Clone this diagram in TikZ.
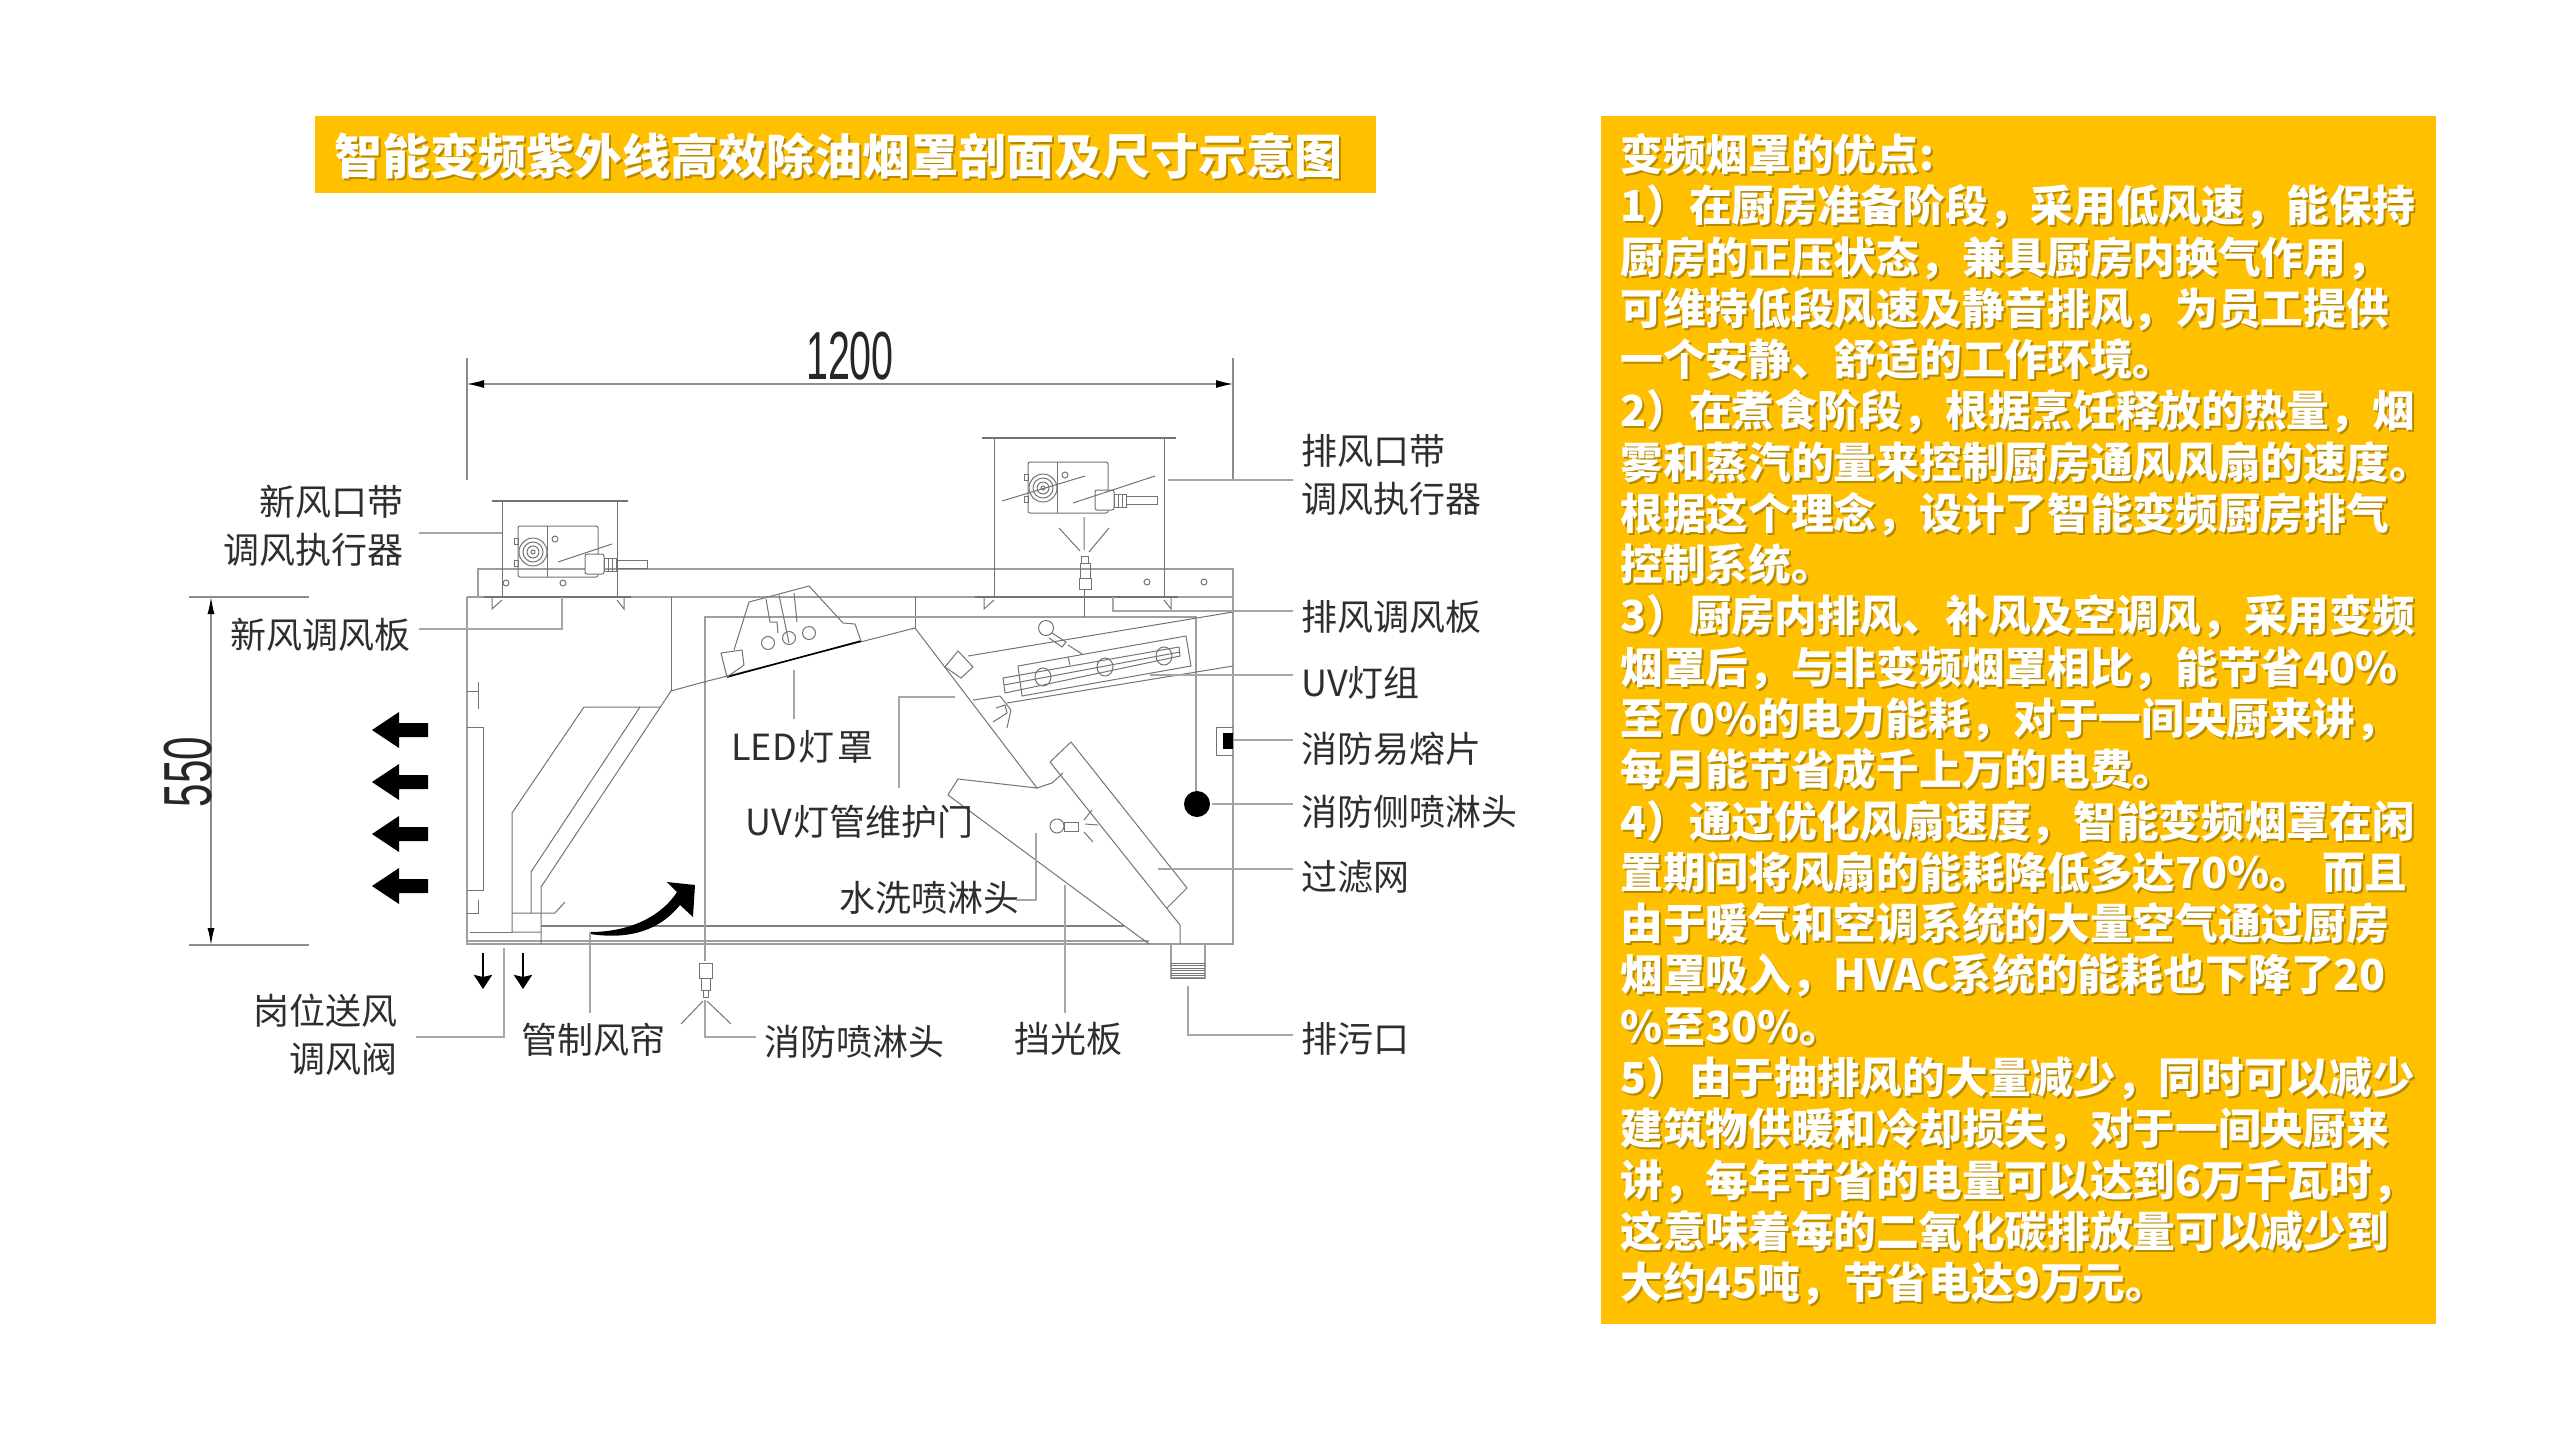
\documentclass[tikz,border=0pt]{standalone}
\usepackage{fontspec}
\setmainfont{Liberation Sans}
\newfontfamily\cjk{Noto Sans CJK SC}
\usetikzlibrary{arrows.meta}

\definecolor{panelgold}{HTML}{FFC000}
\definecolor{shadowgold}{HTML}{B88A00}

\tikzset{
    part/.style={draw=black!55, line width=0.5pt},
    wall/.style={draw=black!38, line width=0.7pt},
    leader/.style={draw=black!35, line width=0.6pt},
    dimline/.style={draw=black!45, line width=0.6pt},
    lbl/.style={font=\cjk\fontsize{18}{24}\selectfont, text=black!82, inner sep=4pt},
    dimtxt/.style={font=\fontsize{34}{34}\selectfont, text=black!85, inner sep=0pt},
    paneltxt/.style={font=\cjk\bfseries\fontsize{21.35}{25.64}\selectfont, align=left, inner sep=0pt, anchor=north west},
    titletxt/.style={font=\cjk\bfseries\fontsize{24}{28}\selectfont, inner sep=0pt, anchor=west}
}

\newcommand{\paneltext}{变频烟罩的优点:\\
1）在厨房准备阶段，采用低风速，能保持\\
厨房的正压状态，兼具厨房内换气作用，\\
可维持低段风速及静音排风，为员工提供\\
一个安静、舒适的工作环境。\\
2）在煮食阶段，根据烹饪释放的热量，烟\\
雾和蒸汽的量来控制厨房通风风扇的速度。\\
根据这个理念，设计了智能变频厨房排气\\
控制系统。\\
3）厨房内排风、补风及空调风，采用变频\\
烟罩后，与非变频烟罩相比，能节省40\%\\
至70\%的电力能耗，对于一间央厨来讲，\\
每月能节省成千上万的电费。\\
4）通过优化风扇速度，智能变频烟罩在闲\\
置期间将风扇的能耗降低多达70\%。 而且\\
由于暖气和空调系统的大量空气通过厨房\\
烟罩吸入，HVAC系统的能耗也下降了20\\
\%至30\%。\\
5）由于抽排风的大量减少，同时可以减少\\
建筑物供暖和冷却损失，对于一间央厨来\\
讲，每年节省的电量可以达到6万千瓦时，\\
这意味着每的二氧化碳排放量可以减少到\\
大约45吨，节省电达9万元。}

\begin{document}
\begin{tikzpicture}[x=0.5pt, y=-0.5pt]
    \useasboundingbox (0,0) rectangle (2560,1440);

    % Titel
    \fill[panelgold] (315,116) rectangle (1376,193);
    \node[titletxt, text=shadowgold] (titleShadow) at (336,158) {智能变频紫外线高效除油烟罩剖面及尺寸示意图};
    \node[titletxt, text=white] (titleText) at (334,156) {智能变频紫外线高效除油烟罩剖面及尺寸示意图};

    % Textfeld
    \fill[panelgold] (1601,116) rectangle (2436,1324);
    \node[paneltxt, text=shadowgold] (panelShadow) at (1622,135) {\paneltext};
    \node[paneltxt, text=white] (panelText) at (1620,133) {\paneltext};

    % Gehaeuse
    \draw[wall] (467,597) -- (467,944) -- (1233,944) -- (1233,569) -- (478,569) -- (478,597);
    \draw[wall] (467,597) -- (1233,597);
    \draw[wall] (467,941) -- (1149,941);
    \draw[part, black!50, line width=1.1pt] (541,926) -- (1124,926);
    \draw[part] (671,597) -- (671,691);
    \draw[part] (915,597) -- (915,628);
    \draw[wall, line width=0.6pt] (705,961) -- (705,617) -- (1196,617) -- (1196,804);
    \draw[part] (1084,589) -- (1084,617);

    % Haube links
    \draw[part] (700,683) -- (915,628) -- (1037,788) -- (958,779) -- (948,795) -- (1149,944);
    \draw[part] (700,683) -- (671,691) -- (541,887) -- (541,944);
    \draw[part] (660,707) -- (584,707) -- (512,813) -- (512,913) -- (512,932) -- (541,932);
    \draw[part] (640,707) -- (531,872) -- (531,913);
    \draw[part] (512,913) -- (555,913) -- (565,902);
    \draw[part] (467,727) -- (483,727) -- (483,890) -- (467,890);
    \draw[part] (467,691) -- (478,691);
    \draw[part] (478,682) -- (478,709);
    \draw[part] (467,913) -- (478,913) -- (478,900);
    \draw[part] (470,932) -- (512,932);

    % Filter
    \draw[part] (1037,788) -- (1052,783) -- (1063,773);
    \draw[part] (1050,762) -- (1071,742) -- (1187,888) -- (1167,908);
    \draw[part] (1050,762) -- (1180,925) -- (1180,944);
    \draw[wall] (1171,944) -- (1171,978) -- (1205,978) -- (1205,944);
    \foreach \sy in {963,965.5,...,978} {
        \draw[part, line width=0.5pt] (1171,\sy) -- (1205,\sy);
    }

    % Stutzen oben
    \draw[part, line width=0.7pt] (492,501) -- (628,501);
    \draw[part] (502,501) -- (502,597) (617,501) -- (617,597);
    \draw[part, line width=0.7pt] (484,597) -- (631,597);
    \draw[part] (492,597) -- (492,609) -- (502,600) (617,600) -- (624,609) -- (624,597);
    \draw[part, line width=0.7pt] (982,438) -- (1176,438);
    \draw[part] (994,438) -- (994,597) (1164,438) -- (1164,597);
    \draw[part, line width=0.7pt] (975,597) -- (1178,597);
    \draw[part] (984,597) -- (984,609) -- (994,600) (1164,600) -- (1171,609) -- (1171,597);
    \foreach \hx/\hy in {506/583,563/583,1147/582,1204/582} {
        \draw[part] (\hx,\hy) circle (3);
    }

    % Stellantriebe
    \foreach \ax/\ay in {518/526,1028/462} {
        \begin{scope}[shift={(\ax,\ay)}]
            \draw[part, rounded corners=1pt] (0,0) rectangle (80,51);
            \draw[part] (29,0) -- (29,51);
            \foreach \gr in {14,10,6,2} {
                \draw[part] (15,26) circle (\gr);
            }
            \draw[part] (-4,12) rectangle (0,18) (-4,34) rectangle (0,40);
            \draw[part] (37,13) circle (3);
            \draw[part, fill=white, rounded corners=1pt] (67,28) rectangle (86,48);
            \draw[part] (86,32) rectangle (98,45);
            \draw[part] (90,32) -- (90,45) (94,32) -- (94,45);
            \draw[part] (98,34) rectangle (129,42);
        \end{scope}
    }
    \draw[part] (558,562) -- (612,544);
    \draw[part] (1002,501) -- (1085,476) (1073,503) -- (1155,476);

    % Duese oben
    \draw[part] (1084,517) -- (1084,550) (1059,528) -- (1080,551) (1109,528) -- (1089,552);
    \draw[part] (1081,556) rectangle (1088,563);
    \draw[part] (1080,563) rectangle (1090,578);
    \draw[part] (1079,578) rectangle (1091,589);

    % LED Haube
    \draw[part, black, line width=0.8pt] (727,677) -- (861,641);
    \draw[part] (734,650) -- (749,602) -- (809,586) -- (843,623) -- (855,624) -- (861,641);
    \draw[part] (721,653) -- (742,650) -- (744,665) -- (727,677) -- cycle;
    \draw[part] (766,599) -- (770,622) -- (777,622) -- (778,633);
    \draw[part] (779,595) -- (789,643);
    \draw[part] (794,593) -- (797,622);
    \foreach \cx/\cy in {768/643,789/638,809/633} {
        \draw[part] (\cx,\cy) circle (6.5);
    }

    % UV Lampen
    \draw[part] (968,656) -- (1233,612);
    \draw[part] (1007,703) -- (1233,666);
    \draw[part] (1018,666) -- (1186,636) -- (1191,666) -- (1022,696) -- cycle;
    \draw[part] (1003,678) -- (1179,647) -- (1180,656) -- (1005,693) -- cycle;
    \draw[part] (1004,685) -- (1180,652);
    \foreach \cx/\cy in {1043/677,1105/667,1164/656} {
        \draw[part] (\cx,\cy) ellipse (8 and 9);
    }
    \draw[part] (945,667) -- (958,651) -- (973,667) -- (961,678) -- cycle;
    \draw[part] (1046,628) circle (7.5);
    \draw[part] (1052,633) -- (1066,642) -- (1062,647) -- (1049,638);
    \draw[part] (1068,645) -- (1082,654) (1068,657) -- (1070,665);
    \draw[part] (973,700) -- (1000,696) -- (1011,710) -- (1007,728);
    \draw[part] (996,708) -- (1005,705) -- (1007,713) -- (993,722);

    % Duese Mitte
    \draw[part] (1057,826) circle (7);
    \draw[part] (1064,822) rectangle (1078,831);
    \draw[part] (1085,824) -- (1098,825) (1084,820) -- (1092,810) (1084,832) -- (1093,842);

    % Duese unten
    \draw[part] (699,963) rectangle (712,978);
    \draw[part] (701,978) rectangle (710,990);
    \draw[part] (703,990) rectangle (708,997);
    \draw[part] (703,1001) -- (681,1024) (707,1001) -- (731,1024);

    % Schmelzlot und Seitenduese
    \draw[part] (1233,727) -- (1216,727) -- (1216,755) -- (1233,755);
    \fill[black] (1223,733) rectangle (1233,749);
    \fill[black] (1197,804) ellipse (13 and 13);

    % Pfeile
    \foreach \ay in {730,782,834,886} {
        \fill[black] (372,\ay) -- (399,\ay-18) -- (399,\ay-7) -- (428,\ay-7) -- (428,\ay+7) -- (399,\ay+7) -- (399,\ay+18) -- cycle;
    }
    \draw[-{Stealth[length=7pt, width=9pt, inset=1pt]}, line width=1.4pt] (483,953) -- (483,989);
    \draw[-{Stealth[length=7pt, width=9pt, inset=1pt]}, line width=1.4pt] (523,953) -- (523,989);
    \fill[black] (590,932) .. controls (633,932) and (663,914) .. (677,892) -- (667,882) -- (695,885) -- (693,917) -- (680,905) .. controls (660,930) and (630,940) .. (590,934) -- cycle;

    % Masse
    \draw[dimline] (467,358) -- (467,480) (1233,358) -- (1233,480);
    \draw[dimline, {Latex[length=8.5pt, width=4pt, color=black]}-{Latex[length=8.5pt, width=4pt, color=black]}] (467,384) -- (1233,384);
    \node[dimtxt] (dimWidth) at (850,356) {\scalebox{.58}[1]{1200}};
    \draw[dimline] (189,597) -- (309,597) (189,945) -- (309,945);
    \draw[dimline, {Latex[length=8.5pt, width=3.5pt, color=black]}-{Latex[length=8.5pt, width=3.5pt, color=black]}] (211,597) -- (211,945);
    \node[dimtxt, rotate=90] (dimHeight) at (188,772) {\scalebox{.62}[1]{550}};

    % Beschriftung links
    \node[lbl, align=right, anchor=east] (lblFreshAct) at (412,526) {\cjk 新风口带\\\cjk 调风执行器};
    \node[lbl, anchor=east] (lblFreshPlate) at (419,635) {\cjk 新风调风板};
    \node[lbl, align=right, anchor=east] (lblPost) at (406,1035) {\cjk 岗位送风\\\cjk 调风阀};
    \draw[leader, shorten >=3.5pt] (502,533) -- (502,533 -| lblFreshAct.east);
    \draw[leader] (562,597) |- (562,629 -| lblFreshPlate.east);
    \draw[leader, shorten >=5pt] (504,948) |- (504,1037 -| lblPost.east);

    % Beschriftung rechts
    \node[lbl, align=left, anchor=west] (lblExhaustAct) at (1293,475) {\cjk 排风口带\\\cjk 调风执行器};
    \node[lbl, anchor=west] (lblExhaustPlate) at (1293,617) {\cjk 排风调风板};
    \node[lbl, anchor=west] (lblUvGroup) at (1293,683) {UV\cjk 灯组};
    \node[lbl, anchor=west] (lblFusible) at (1293,749) {\cjk 消防易熔片};
    \node[lbl, anchor=west] (lblSideSpray) at (1293,812) {\cjk 消防侧喷淋头};
    \node[lbl, anchor=west] (lblFilter) at (1293,877) {\cjk 过滤网};
    \node[lbl, anchor=west] (lblDrain) at (1293,1039) {\cjk 排污口};
    \draw[leader] (1168,480) -- (1168,480 -| lblExhaustAct.west);
    \draw[leader] (1113,597) |- (1113,611 -| lblExhaustPlate.west);
    \draw[leader] (1150,675) -- (1150,675 -| lblUvGroup.west);
    \draw[leader] (1233,740) -- (1233,740 -| lblFusible.west);
    \draw[leader] (1212,804) -- (1212,804 -| lblSideSpray.west);
    \draw[leader] (1158,869) -- (1158,869 -| lblFilter.west);
    \draw[leader] (1188,986) |- (1188,1035 -| lblDrain.west);

    % Beschriftung Mitte
    \node[lbl, anchor=west] (lblLed) at (723,747) {LED\hspace{1pt}\cjk 灯\hspace{1.5pt}罩};
    \node[lbl, anchor=west] (lblDoor) at (737,822) {UV\hspace{1pt}\cjk 灯管维护门};
    \node[lbl, anchor=west] (lblWash) at (831,898) {\cjk 水洗喷淋头};
    \node[lbl] (lblCurtain) at (593,1040) {\cjk 管制风帘};
    \node[lbl, anchor=west] (lblFireSpray) at (756,1042) {\cjk 消防喷淋头};
    \node[lbl] (lblShield) at (1068,1039) {\cjk 挡光板};
    \draw[leader] (794,670) -- (794,719);
    \draw[leader] (955,697) -| (899,788);
    \draw[leader] (1036,833) |- (1016,900);
    \draw[leader] (590,932) -- (590,1013);
    \draw[leader] (705,1000) |- (756,1037);
    \draw[leader] (1065,885) -- (1065,1013);
\end{tikzpicture}
\end{document}
